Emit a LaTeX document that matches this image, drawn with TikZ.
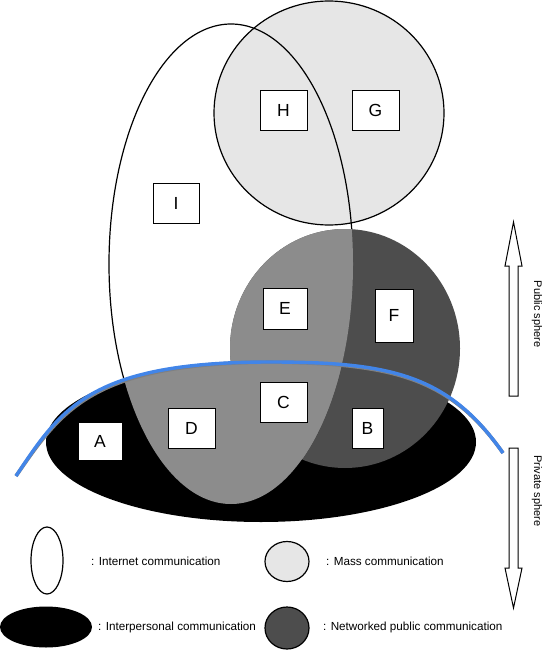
\documentclass[tikz,border=0pt]{standalone}
\usepackage{fontspec}
\setmainfont{Liberation Sans}
\definecolor{massgray}{RGB}{230,230,230}
\definecolor{midgray}{RGB}{140,140,140}
\definecolor{netgray}{RGB}{77,77,77}
\definecolor{sphereblue}{RGB}{66,133,232}
\definecolor{shadowgray}{RGB}{128,128,128}
\tikzset{
  outline/.style={draw=black, line width=1.2pt},
  letterbox/.style={draw=black, fill=white, line width=0.9pt, inner sep=0pt,
    font=\fontsize{17.5}{17.5}\selectfont},
  legendtext/.style={anchor=west, inner sep=0pt, font=\fontsize{11.7}{12}\selectfont},
  spheretext/.style={rotate=-90, inner sep=0pt, font=\fontsize{11}{11}\selectfont},
  blockarrow/.style={draw=black, fill=white, line width=1pt, line join=miter},
}
\begin{document}
\begin{tikzpicture}[x=1pt, y=-1pt]
\useasboundingbox (0,0) rectangle (545,650);

% Mass communication circle
\fill[massgray] (329,113) ellipse [x radius=115, y radius=112];
\draw[outline] (329,113) ellipse [x radius=115, y radius=112];
% Internet communication ellipse outline
\draw[outline] (231,264) ellipse [x radius=122, y radius=240];

% Interpersonal communication ellipse
\fill[black] (261,442) ellipse [x radius=215, y radius=80];
% Networked public communication circle
\fill[netgray] (345,348.5) ellipse [x radius=115, y radius=119.5];
% Overlap of internet ellipse with the two
\begin{scope}
  \clip (231,264) ellipse [x radius=122, y radius=240];
  \fill[midgray] (261,442) ellipse [x radius=215, y radius=80];
  \fill[midgray] (345,348.5) ellipse [x radius=115, y radius=119.5];
\end{scope}

% Letter boxes
\node[letterbox, minimum width=47pt, minimum height=40pt] (H) at (283.5,110) {H};
\node[letterbox, minimum width=47pt, minimum height=40pt] (G) at (375.5,110) {G};
\node[letterbox, minimum width=46pt, minimum height=40pt] (I) at (176,203) {I};
\node[letterbox, minimum width=44pt, minimum height=41pt] (E) at (285,308.5) {E};
\node[letterbox, minimum width=38pt, minimum height=53pt] (F) at (394,315.5) {F};
\node[letterbox, minimum width=47pt, minimum height=40pt] (C) at (283.5,402) {C};
\node[letterbox, minimum width=47pt, minimum height=40pt] (D) at (191.5,428) {D};
\node[letterbox, minimum width=44pt, minimum height=38pt] (A) at (100,441) {A};
\node[letterbox, minimum width=31pt, minimum height=40pt] (B) at (367.5,428) {B};

% Public / private boundary line
\coordinate (bl) at (16,476);
\coordinate (bt) at (270,362);
\coordinate (br) at (503,453);
\draw[shadowgray, line width=3.6pt, shift={(0.8,1.6)}]
  (bl) .. controls (61,408.5) and (90,362) .. (bt)
       .. controls (390,362) and (448,374.4) .. (br);
\draw[sphereblue, line width=3.4pt]
  (bl) .. controls (61,408.5) and (90,362) .. (bt)
       .. controls (390,362) and (448,374.4) .. (br);

% Sphere arrows
\draw[blockarrow] (509,396) -- (509,266) -- (505,266) -- (513.5,222) -- (522,266) -- (518,266) -- (518,396) -- cycle;
\draw[blockarrow] (509,448) -- (509,568) -- (505,568) -- (513.5,608) -- (522,568) -- (518,568) -- (518,448) -- cycle;
\node[spheretext] (pub) at (537,314) {Public sphere};
\node[spheretext] (priv) at (537,491) {Private sphere};

% Legend
\draw[outline, fill=white] (47,560.5) ellipse [x radius=16, y radius=33.5];
\node[legendtext] (lint) at (91,561) {: Internet communication};
\draw[outline, fill=massgray] (287,561.5) ellipse [x radius=22, y radius=20];
\node[legendtext] (lmass) at (326,561) {: Mass communication};
\fill[black] (46,627) ellipse [x radius=46, y radius=20.5];
\node[legendtext] (linter) at (98,627) {: Interpersonal communication};
\draw[outline, fill=netgray] (287,628) ellipse [x radius=22, y radius=21];
\node[legendtext] (lnet) at (323,627) {: Networked public communication};
\end{tikzpicture}
\end{document}
